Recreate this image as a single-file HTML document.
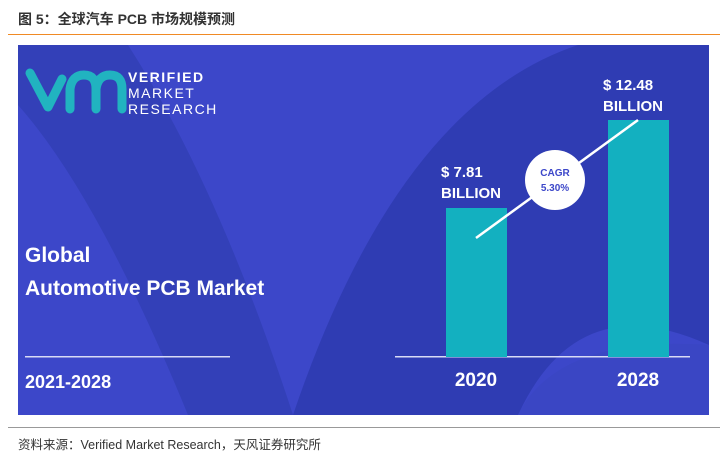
<!DOCTYPE html>
<html><head><style>
body{margin:0;width:724px;height:456px;background:#fff;overflow:hidden;font-family:"Liberation Sans","Noto Sans CJK SC",sans-serif;position:relative}
.t{position:absolute;left:18px;top:9px;font-size:14px;font-weight:bold;color:#333}
.ol{position:absolute;left:8px;top:34px;width:712px;height:1px;background:#f08a24}
.gl{position:absolute;left:8px;top:427px;width:712px;height:1px;background:#999}
.src{position:absolute;left:18px;top:434px;font-size:12.5px;color:#333}
</style></head><body>
<div class="t">图 5：全球汽车 PCB 市场规模预测</div>
<div class="ol"></div>
<svg style="position:absolute;left:18px;top:45px" width="691" height="370" viewBox="0 0 691 370">
<rect width="691" height="370" fill="#3c47c9"/>
<path d="M0 0 L110 0 Q200 140 275 370 L170 370 Q80 150 0 60 Z" fill="#3340b8"/>
<path d="M275 370 Q380 60 560 0 L691 0 L691 300 Q560 240 500 370 Z" fill="#2f3cb3"/>
<path d="M500 370 Q540 290 691 300 L691 370 Z" fill="#3a46c4"/>
<g fill="none" stroke="#21b3c0" stroke-width="9" stroke-linecap="round" stroke-linejoin="round">
<path d="M12 28 L30 62 L44 34"/>
<path d="M52 64 L52 44 Q54 30 66 30 Q78 30 78 44 L78 64"/>
<path d="M78 44 Q80 30 92 30 Q104 30 104 44 L104 64"/>
</g>
<text x="110" y="37" fill="#fff" font-size="14" font-weight="bold" letter-spacing="1.5">VERIFIED</text>
<text x="110" y="53" fill="#fff" font-size="14" letter-spacing="1.5">MARKET</text>
<text x="110" y="69" fill="#fff" font-size="14" letter-spacing="1.5">RESEARCH</text>
<text x="7" y="217" fill="#fff" font-size="21" font-weight="bold">Global</text>
<text x="7" y="250" fill="#fff" font-size="21" font-weight="bold">Automotive PCB Market</text>
<rect x="7" y="311" width="205" height="1.5" fill="#d8dbf5"/>
<text x="7" y="343" fill="#fff" font-size="18" font-weight="bold">2021-2028</text>
<rect x="377" y="311" width="295" height="1.5" fill="#d8dbf5"/>
<rect x="428" y="163" width="61" height="149" fill="#13b0c0"/>
<rect x="590" y="75" width="61" height="237" fill="#13b0c0"/>
<line x1="458" y1="193" x2="620" y2="75" stroke="#fff" stroke-width="2.5"/>
<circle cx="537" cy="135" r="30" fill="#fff"/>
<text x="537" y="131" fill="#3c47c9" font-size="10" font-weight="bold" text-anchor="middle">CAGR</text>
<text x="537" y="146" fill="#3c47c9" font-size="10" font-weight="bold" text-anchor="middle">5.30%</text>
<text x="423" y="132" fill="#fff" font-size="15" font-weight="bold">$ 7.81</text>
<text x="423" y="153" fill="#fff" font-size="15" font-weight="bold">BILLION</text>
<text x="585" y="45" fill="#fff" font-size="15" font-weight="bold">$ 12.48</text>
<text x="585" y="66" fill="#fff" font-size="15" font-weight="bold">BILLION</text>
<text x="458" y="341" fill="#fff" font-size="19" font-weight="bold" text-anchor="middle">2020</text>
<text x="620" y="341" fill="#fff" font-size="19" font-weight="bold" text-anchor="middle">2028</text>
</svg>
<div class="gl"></div>
<div class="src">资料来源：Verified Market Research，天风证券研究所</div>
</body></html>
